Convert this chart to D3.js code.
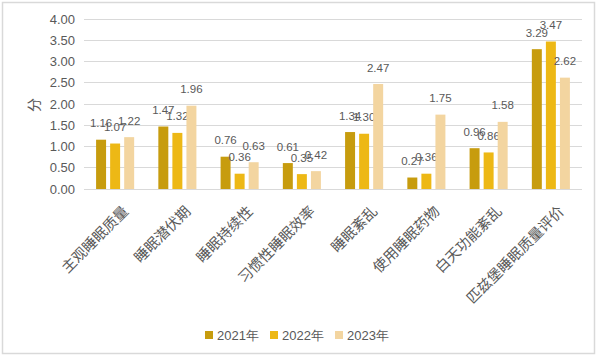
<!DOCTYPE html>
<html><head><meta charset="utf-8">
<script src="https://cdn.jsdelivr.net/npm/d3@7"></script>
<style>body{margin:0;background:#fff;}svg{display:block;}</style>
</head><body>
<svg id="c" width="600" height="360"></svg>
<script>
const categories = ["主观睡眠质量","睡眠潜伏期","睡眠持续性","习惯性睡眠效率","睡眠紊乱","使用睡眠药物","白天功能紊乱","匹兹堡睡眠质量评价"];
const seriesNames = ["2021年","2022年","2023年"];
const v2021 = [1.16,1.47,0.76,0.61,1.34,0.27,0.96,3.29];
const v2022 = [1.07,1.32,0.36,0.35,1.30,0.36,0.86,3.47];
const v2023 = [1.22,1.96,0.63,0.42,2.47,1.75,1.58,2.62];
const yTicks = [0,0.5,1,1.5,2,2.5,3,3.5,4];
const colors = ["#C79C0E","#EDB815","#F3D5A0"];
const series = [v2021, v2022, v2023];

const svg = d3.select("#c");
const font = "'Liberation Sans', Arial, sans-serif";
const cjk = "'Noto Sans CJK SC', sans-serif";
const txt = "#595959";

// frame
svg.append("rect").attr("x",2.5).attr("y",2.5).attr("width",592).attr("height",351)
  .attr("fill","#fff").attr("stroke","#d9d9d9").attr("stroke-width",1.5);

const x = d3.scaleBand().domain(categories).range([84,582]);
const y = d3.scaleLinear().domain([0,4]).range([189,19]);
const xs = d3.scaleBand().domain([0,1,2]).range([-21,21]).paddingInner(0.29).paddingOuter(0.14);

// gridlines
svg.append("g").selectAll("line").data(yTicks).join("line")
  .attr("x1",84).attr("x2",582).attr("y1",d=>y(d)).attr("y2",d=>y(d))
  .attr("stroke","#d9d9d9").attr("stroke-width",1).attr("shape-rendering","crispEdges");

// y axis labels
const yAxis = d3.axisLeft(y).tickValues(yTicks).tickFormat(d3.format(".2f")).tickSize(0).tickPadding(0);
const ga = svg.append("g").attr("transform","translate(75,0)").call(yAxis);
ga.select(".domain").remove();
ga.selectAll("text").attr("font-family",font).attr("font-size",13).attr("fill",txt);

svg.append("text").attr("transform","translate(33,105) rotate(-90)")
  .attr("text-anchor","middle").attr("dominant-baseline","central")
  .attr("font-family",cjk).attr("font-size",14).attr("fill",txt).text("分");

// bars
series.forEach((vals,si)=>{
  const g = svg.append("g");
  g.selectAll("rect").data(vals).join("rect")
    .attr("x",(d,i)=>x(categories[i])+x.bandwidth()/2+xs(si))
    .attr("width",xs.bandwidth())
    .attr("y",d=>y(d)).attr("height",d=>y(0)-y(d))
    .attr("fill",colors[si]);
  g.selectAll("text").data(vals).join("text")
    .attr("x",(d,i)=>x(categories[i])+x.bandwidth()/2+xs(si)+xs.bandwidth()/2)
    .attr("y",d=>y(d)-12.5)
    .attr("text-anchor","middle")
    .attr("font-family",font).attr("font-size",11.5).attr("fill",txt)
    .text(d=>d.toFixed(2));
});

// category labels
svg.append("g").selectAll("text").data(categories).join("text")
  .attr("transform",d=>`translate(${x(d)+x.bandwidth()/2+6},204) rotate(-45)`)
  .attr("text-anchor","end").attr("dy","0.8em")
  .attr("font-family",cjk).attr("font-size",14.5).attr("fill",txt)
  .text(d=>d);

// legend
const lx = [205,270,335];
const lg = svg.append("g");
seriesNames.forEach((n,i)=>{
  lg.append("rect").attr("x",lx[i]).attr("y",331).attr("width",8).attr("height",8).attr("fill",colors[i]);
  lg.append("text").attr("x",lx[i]+12).attr("y",339.5)
    .attr("font-family",font).attr("font-size",13).attr("fill",txt).text(n);
});
</script>
</body></html>
